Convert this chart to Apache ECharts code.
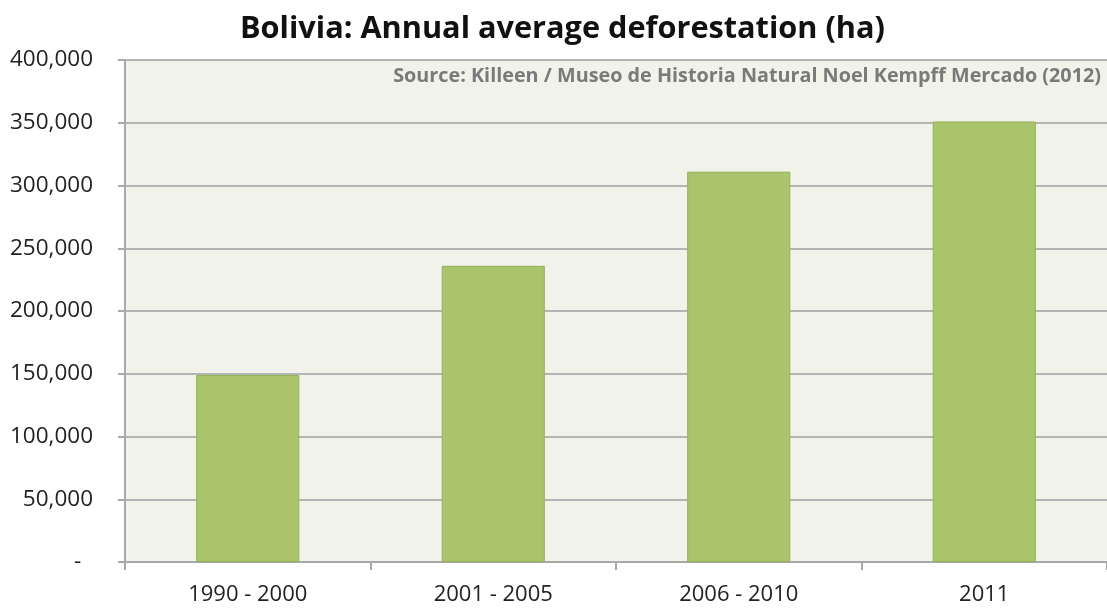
<!DOCTYPE html>
<html>
<head>
<meta charset="utf-8">
<script src="https://cdn.jsdelivr.net/npm/echarts@6/dist/echarts.min.js"></script>
<style>html,body{margin:0;padding:0;background:#fff;}#c{width:1107px;height:608px;}</style>
</head>
<body>
<div id="c"></div>
<script>
const categories = ["1990 - 2000", "2001 - 2005", "2006 - 2010", "2011"];
const deforestation = [149000, 236000, 311000, 351000];
const yTicks = [0, 50000, 100000, 150000, 200000, 250000, 300000, 350000, 400000];
const titleText = "Bolivia: Annual average deforestation (ha)";
const sourceText = "Source: Killeen / Museo de Historia Natural Noel Kempff Mercado (2012)";

const chart = echarts.init(document.getElementById('c'));
chart.setOption({
  backgroundColor: '#ffffff',
  animation: false,
  graphic: [
    { type: 'text', left: 240, top: 14,
      style: { text: titleText, fontFamily: 'Open Sans', fontWeight: 'bold', fontSize: 30.7, fill: '#111' } },
    { type: 'text', right: 6, top: 66,
      style: { text: sourceText, fontFamily: 'Open Sans', fontWeight: 'bold', fontSize: 19.8, fill: '#7a7a7a' } }
  ],
  grid: { left: 125, right: -4, top: 60, bottom: 46, show: true, backgroundColor: '#f1f3ea', borderWidth: 0 },
  xAxis: {
    type: 'category', data: categories,
    axisLine: { lineStyle: { color: '#a8a8a8', width: 2 } },
    axisTick: { show: true, alignWithLabel: false, length: 8, lineStyle: { color: '#a8a8a8', width: 2 } },
    axisLabel: { fontFamily: 'Open Sans', fontSize: 22, color: '#222', margin: 22 }
  },
  yAxis: {
    type: 'value', min: 0, max: 400000, interval: 50000,
    axisLine: { show: true, lineStyle: { color: '#a8a8a8', width: 2 } },
    axisTick: { show: true, length: 7, lineStyle: { color: '#a8a8a8', width: 2 } },
    splitLine: { lineStyle: { color: '#b4b4b4', width: 2 } },
    axisLabel: { fontFamily: 'Open Sans', fontSize: 22.5, color: '#222', margin: 32,
      formatter: v => v === 0 ? '-  ' : v.toLocaleString('en-US') }
  },
  series: [{
    type: 'bar', data: deforestation, barWidth: '42%',
    itemStyle: { color: '#a9c46b', borderColor: '#93b158', borderWidth: 1 }
  }]
});
</script>
</body>
</html>
